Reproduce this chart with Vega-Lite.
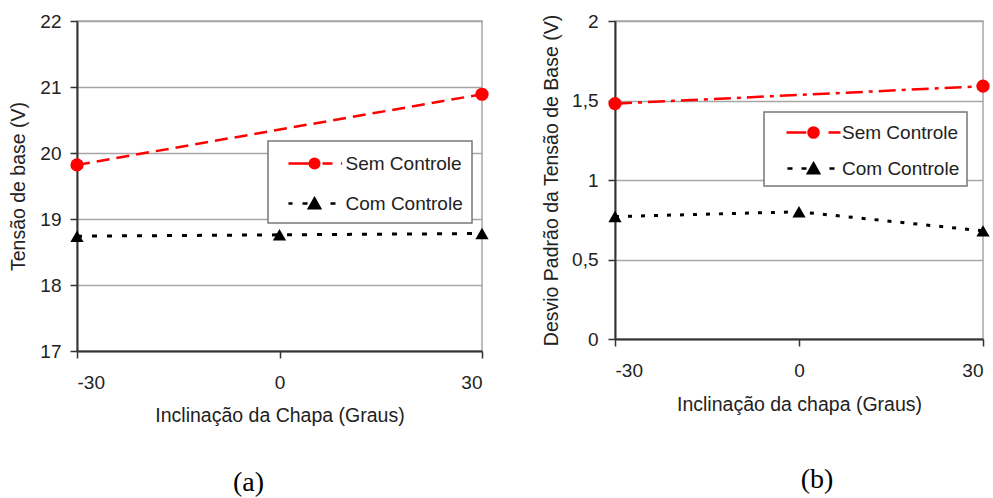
{
  "$schema": "https://vega.github.io/schema/vega-lite/v6.json",
  "padding": {"left": 8, "top": 11, "right": 0, "bottom": 0},
  "background": "white",
  "datasets": {
    "a": [
      {"x": -30, "y": 19.82, "serie": "Sem Controle"},
      {"x": 30, "y": 20.89, "serie": "Sem Controle"},
      {"x": -30, "y": 18.74, "serie": "Com Controle"},
      {"x": 0, "y": 18.76, "serie": "Com Controle"},
      {"x": 30, "y": 18.78, "serie": "Com Controle"}
    ],
    "b": [
      {"x": -30, "y": 1.48, "serie": "Sem Controle"},
      {"x": 30, "y": 1.59, "serie": "Sem Controle"},
      {"x": -30, "y": 0.77, "serie": "Com Controle"},
      {"x": 0, "y": 0.80, "serie": "Com Controle"},
      {"x": 30, "y": 0.68, "serie": "Com Controle"}
    ]
  },
  "config": {
    "font": "Liberation Sans",
    "view": {"stroke": "#a6a6a6", "strokeWidth": 1.5},
    "axis": {
      "labelFont": "Liberation Sans", "labelFontSize": 19, "labelColor": "#222",
      "titleFont": "Liberation Sans", "titleFontSize": 19.5, "titleFontWeight": "normal", "titleColor": "#222",
      "domainColor": "#333", "domainWidth": 2, "tickColor": "#333", "tickWidth": 1.5, "tickSize": 7,
      "gridColor": "#a6a6a6", "gridWidth": 1.5
    },
    "legend": {"strokeColor": "#777", "strokeWidth": 1.5, "fillColor": "white", "symbolOpacity": 1, "symbolStrokeWidth": 2.5,
               "labelFont": "Liberation Sans", "labelFontSize": 19, "labelColor": "#222", "symbolSize": 576}
  },
  "bounds": "flush",
  "spacing": 133,
  "resolve": {"scale": {"fill": "independent", "stroke": "independent", "shape": "independent"},
              "legend": {"fill": "independent", "stroke": "independent", "shape": "independent"}},
  "hconcat": [
    {
      "width": 405, "height": 330,
      "data": {"name": "a"},
      "title": {"text": "(a)", "orient": "bottom", "font": "Liberation Serif", "fontSize": 28, "fontWeight": "normal", "color": "#000", "offset": 44, "dx": -31, "anchor": "middle"},
      "encoding": {
        "x": {"field": "x", "type": "quantitative", "scale": {"domain": [-30, 30], "nice": false},
              "axis": {"values": [-30, 0, 30], "title": "Inclinação da Chapa (Graus)", "grid": false, "labelPadding": 15, "titlePadding": 14,
                       "labelExpr": "datum.value < 0 ? '-' + abs(datum.value) : '' + datum.value"}},
        "y": {"field": "y", "type": "quantitative", "scale": {"domain": [17, 22], "nice": false, "zero": false},
              "axis": {"values": [17, 18, 19, 20, 21, 22], "title": "Tensão de base (V)", "grid": true, "labelPadding": 9, "titlePadding": 11}}
      },
      "layer": [
        {"transform": [{"filter": "datum.serie === 'Sem Controle'"}],
         "mark": {"type": "line", "color": "#ff0000", "strokeWidth": 2.5, "strokeDash": [13, 7]}},
        {"transform": [{"filter": "datum.serie === 'Com Controle'"}],
         "mark": {"type": "line", "color": "#000000", "strokeWidth": 3, "strokeDash": [5, 10]}},
        {"transform": [{"filter": "datum.serie === 'Sem Controle'"}],
         "mark": {"type": "point", "shape": "circle", "filled": true, "opacity": 1, "size": 175, "color": "#ff0000"}},
        {"transform": [{"filter": "datum.serie === 'Com Controle'"}],
         "mark": {"type": "point", "shape": "triangle-up", "filled": true, "opacity": 1, "size": 175, "color": "#000000"}},
        {"mark": {"type": "point", "filled": true, "opacity": 0, "strokeWidth": 2.5},
         "encoding": {
           "fill": {"field": "serie", "type": "nominal",
                    "scale": {"domain": ["Sem Controle", "Com Controle"], "range": ["#ff0000", "#000000"]},
                    "legend": {"orient": "none", "legendX": 191, "legendY": 120, "title": null, "padding": 9,
                               "symbolOffset": 24, "labelOffset": 17.5, "rowPadding": 16,
                               "labelExpr": "datum.label + '\u00a0\u00a0\u00a0\u00a0\u00a0\u00a0'"}},
           "stroke": {"field": "serie", "type": "nominal",
                    "scale": {"domain": ["Sem Controle", "Com Controle"], "range": ["#ff0000", "#000000"]},
                    "legend": {"orient": "none", "legendX": 191, "legendY": 120, "title": null, "padding": 9,
                               "symbolOffset": 24, "labelOffset": 17.5, "rowPadding": 16,
                               "labelExpr": "datum.label + '\u00a0\u00a0\u00a0\u00a0\u00a0\u00a0'"}},
           "shape": {"field": "serie", "type": "nominal",
                    "scale": {"domain": ["Sem Controle", "Com Controle"],
                              "range": ["M-2.17,0H-0.5M0.67,0H1.5M2.2,0H2.3M-0.4,0A0.4,0.4 0 1,0 0.4,0A0.4,0.4 0 1,0 -0.4,0Z",
                                        "M-2.17,0H-1.83M-1,0H-0.58M1.33,0H1.75M0,-0.42L0.46,0.4L-0.46,0.4Z"]},
                    "legend": {"orient": "none", "legendX": 191, "legendY": 120, "title": null, "padding": 9,
                               "symbolOffset": 24, "labelOffset": 17.5, "rowPadding": 16,
                               "labelExpr": "datum.label + '\u00a0\u00a0\u00a0\u00a0\u00a0\u00a0'"}}
         }}
      ]
    },
    {
      "width": 368, "height": 318,
      "data": {"name": "b"},
      "title": {"text": "(b)", "orient": "bottom", "font": "Liberation Serif", "fontSize": 28, "fontWeight": "normal", "color": "#000", "offset": 52, "dx": 18, "anchor": "middle"},
      "encoding": {
        "x": {"field": "x", "type": "quantitative", "scale": {"domain": [-30, 30], "nice": false},
              "axis": {"values": [-30, 0, 30], "title": "Inclinação da chapa (Graus)", "grid": false, "labelPadding": 15, "titlePadding": 15,
                       "labelExpr": "datum.value < 0 ? '-' + abs(datum.value) : '' + datum.value"}},
        "y": {"field": "y", "type": "quantitative", "scale": {"domain": [0, 2], "nice": false},
              "axis": {"values": [0, 0.5, 1, 1.5, 2], "title": "Desvio Padrão da Tensão de Base (V)", "grid": true, "labelPadding": 10, "titlePadding": 10,
                       "labelExpr": "replace(format(datum.value, '~g'), '.', ',')"}}
      },
      "layer": [
        {"transform": [{"filter": "datum.serie === 'Sem Controle'"}],
         "mark": {"type": "line", "color": "#ff0000", "strokeWidth": 2.5, "strokeDash": [17, 6, 4, 6]}},
        {"transform": [{"filter": "datum.serie === 'Com Controle'"}],
         "mark": {"type": "line", "color": "#000000", "strokeWidth": 3, "strokeDash": [4, 9]}},
        {"transform": [{"filter": "datum.serie === 'Sem Controle'"}],
         "mark": {"type": "point", "shape": "circle", "filled": true, "opacity": 1, "size": 175, "color": "#ff0000"}},
        {"transform": [{"filter": "datum.serie === 'Com Controle'"}],
         "mark": {"type": "point", "shape": "triangle-up", "filled": true, "opacity": 1, "size": 175, "color": "#000000"}},
        {"mark": {"type": "point", "filled": true, "opacity": 0, "strokeWidth": 2.5},
         "encoding": {
           "fill": {"field": "serie", "type": "nominal",
                    "scale": {"domain": ["Sem Controle", "Com Controle"], "range": ["#ff0000", "#000000"]},
                    "legend": {"orient": "none", "legendX": 149, "legendY": 91, "title": null, "padding": 7,
                               "symbolOffset": 29, "labelOffset": 15, "rowPadding": 12,
                               "labelExpr": "datum.label + '\u00a0\u00a0\u00a0\u00a0\u00a0\u00a0\u00a0\u00a0\u00a0'"}},
           "stroke": {"field": "serie", "type": "nominal",
                    "scale": {"domain": ["Sem Controle", "Com Controle"], "range": ["#ff0000", "#000000"]},
                    "legend": {"orient": "none", "legendX": 149, "legendY": 91, "title": null, "padding": 7,
                               "symbolOffset": 29, "labelOffset": 15, "rowPadding": 12,
                               "labelExpr": "datum.label + '\u00a0\u00a0\u00a0\u00a0\u00a0\u00a0\u00a0\u00a0\u00a0'"}},
           "shape": {"field": "serie", "type": "nominal",
                    "scale": {"domain": ["Sem Controle", "Com Controle"],
                              "range": ["M-2.25,0H-0.6M1.25,0H2.25M-0.42,0A0.42,0.42 0 1,0 0.42,0A0.42,0.42 0 1,0 -0.42,0Z",
                                        "M-2.17,0H-1.75M-1,0H-0.58M1.33,0H1.75M0,-0.42L0.46,0.4L-0.46,0.4Z"]},
                    "legend": {"orient": "none", "legendX": 149, "legendY": 91, "title": null, "padding": 7,
                               "symbolOffset": 29, "labelOffset": 15, "rowPadding": 12,
                               "labelExpr": "datum.label + '\u00a0\u00a0\u00a0\u00a0\u00a0\u00a0\u00a0\u00a0\u00a0'"}}
         }}
      ]
    }
  ]
}
